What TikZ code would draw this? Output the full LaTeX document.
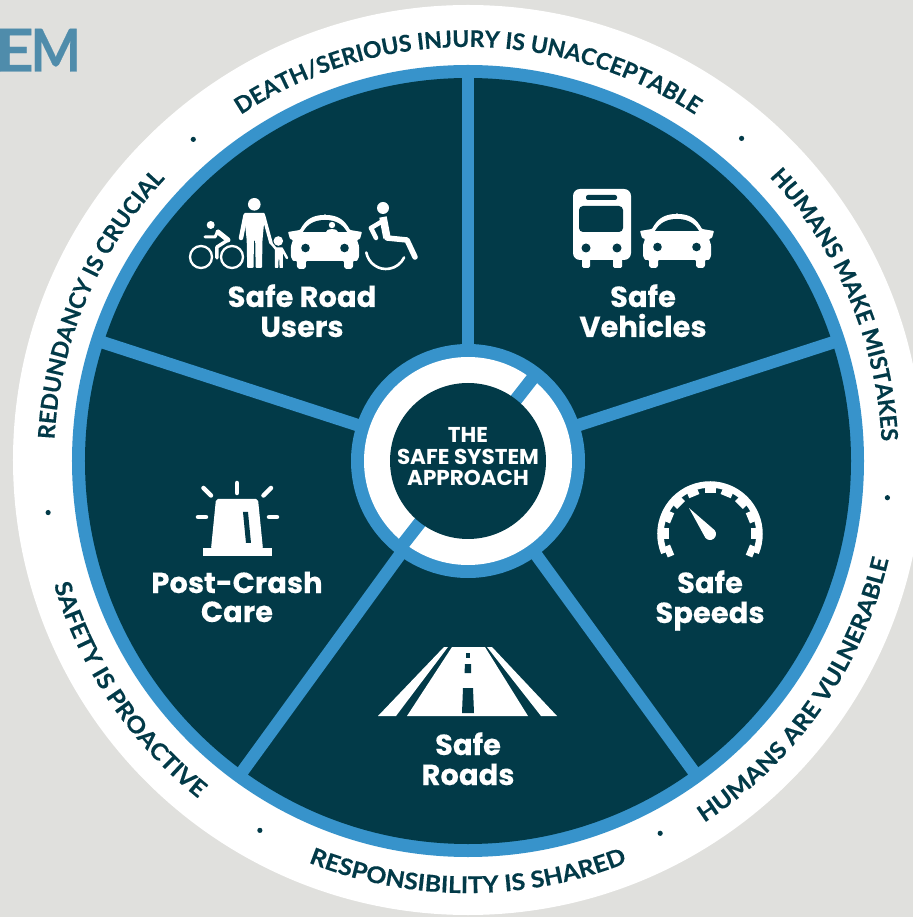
\documentclass[tikz,border=0pt]{standalone}
\usepackage{fontspec}
\usetikzlibrary{decorations.text}
\newfontfamily\lblfont{Poppins}[BoldFeatures={FakeBold=0.25}]
\newfontfamily\hubfont{Poppins}
\newfontfamily\ringfont{Lato}[BoldFeatures={FakeBold=0.35}]
\newfontfamily\ringwidefont{Lato}[FakeStretch=1.08,BoldFeatures={FakeBold=0.35}]
\newfontfamily\emfont{Lato}[BoldFeatures={FakeBold=0.5}]
\definecolor{bgc}{HTML}{E0E0DD}
\definecolor{darkc}{HTML}{023A48}
\definecolor{bluec}{HTML}{3793CB}
\definecolor{emc}{HTML}{4F8CAB}
\newcommand\ringfmt{\color{darkc}\ringfont\bfseries\fontsize{23}{24}\selectfont}
\newcommand\ringwide{\color{darkc}\ringwidefont\bfseries\fontsize{23}{24}\selectfont}
\newcommand\carIcon[3]{%
  \begin{scope}[shift={(#1,#2)}]
    \fill[white,rounded corners=0.8pt] (0,0) .. controls (-14,0) and (-20,6) .. (-25,15) -- (-37,17) -- (-35,24) -- (-32,25) -- (-34,31) -- (-34,42) -- (-32,46) -- (-28,46) -- (-28,52) -- (-26,54) -- (-21,54) -- (-19,52) -- (-19,46) -- (19,46) -- (19,52) -- (21,54) -- (26,54) -- (28,52) -- (28,46) -- (32,46) -- (34,42) -- (34,31) -- (32,25) -- (35,24) -- (37,17) -- (25,15) .. controls (20,6) and (14,0) .. (0,0) -- cycle;
    \fill[darkc] (-22,17) .. controls (-17,8) and (-9,5) .. (0,5) .. controls (9,5) and (17,8) .. (22,17) -- cycle;
    \fill[darkc] (-19.5,33) circle[radius=4.3] (19.5,33) circle[radius=4.3];
    #3
  \end{scope}}
\tikzset{
  px/.style={shift={(-468pt,461pt)},x=1pt,y=-1pt},
  ringtext/.style={decorate,decoration={text along path,text align=center,text={#1}}},
  label/.style={text=white,font=\lblfont\bfseries\fontsize{29}{30}\selectfont,align=center,inner sep=0pt,anchor=base},
  hub/.style={text=white,font=\hubfont\fontsize{21.5}{22}\selectfont\bfseries,inner sep=0pt,anchor=base},
  emtext/.style={text=emc,font=\emfont\bfseries\fontsize{59}{60}\selectfont,anchor=base east,inner sep=0pt,transform shape},
  spoke/.style={draw=bluec,line width=12.5pt},
  ray/.style={draw=white,line width=4.5pt,line cap=round},
  limb/.style={draw=white,line width=4.5pt,line cap=round,line join=round},
}
\begin{document}
\begin{tikzpicture}[x=1pt,y=1pt]
\clip (-468,-456) rectangle (445,461);
\fill[bgc] (-468,-456) rectangle (445,461);
% EM
\begin{scope}[px]
  \node[emtext,xscale=0.9] (emM) at (81,71.5) {M};
  \node[emtext,xscale=1.15] (emE) at (34,71.5) {E};
\end{scope}
% discs
\fill[white] (0,1) circle[radius=455];
\fill[bluec] (0,0) circle[radius=396];
\fill[darkc] (0,0) circle[radius=383];
% spokes
\foreach \a in {90,18,-54,-126,162} \draw[spoke] (\a:110) -- (\a:388);
% hub
\fill[bluec] (0,0) circle[radius=117];
\fill[white] (0,0) circle[radius=104];
\draw[bluec,line width=13pt] (52:70) -- (52:110);
\draw[bluec,line width=13pt] (232:70) -- (232:110);
\fill[darkc] (0,0) circle[radius=78];
% ring texts
\path[ringtext={|\ringfmt|DEATH/SERIOUS INJURY IS UNACCEPTABLE}] (170:414) arc[start angle=170,end angle=10,radius=414];
\path[ringtext={|\ringfmt|HUMANS MAKE MISTAKES}] (103:414) arc[start angle=103,end angle=-57,radius=414];
\path[ringtext={|\ringfmt|REDUNDANCY IS CRUCIAL}] (237:414) arc[start angle=237,end angle=77,radius=414];
\path[ringtext={|\ringwide|HUMANS ARE VULNERABLE}] (-115:432) arc[start angle=-115,end angle=45,radius=432];
\path[ringtext={|\ringwide|RESPONSIBILITY IS SHARED}] (-170:432) arc[start angle=-170,end angle=-10,radius=432];
\path[ringtext={|\ringwide|SAFETY IS PROACTIVE}] (134:432) arc[start angle=134,end angle=294,radius=432];
% dots
\foreach \a/\r in {49.7/423,-5/421,-62.7/419,-119.4/424,-173/423,130.5/423}
  \fill[darkc] (\a:\r) circle[radius=2.6];
% labels
\begin{scope}[px]
  \node[hub] (h1) at (468,443) {THE};
  \node[hub] (h2) at (468,464.5) {SAFE SYSTEM};
  \node[hub] (h3) at (468,485.5) {APPROACH};
  \node[label] (l1a) at (302,307) {Safe Road};
  \node[label] (l1b) at (302,337) {Users};
  \node[label] (l2a) at (643,307) {Safe};
  \node[label] (l2b) at (643,337) {Vehicles};
  \node[label] (l3a) at (710,593) {Safe};
  \node[label] (l3b) at (710,623) {Speeds};
  \node[label] (l4a) at (468,755) {Safe};
  \node[label] (l4b) at (468,785) {Roads};
  \node[label] (l5a) at (237,593) {Post-Crash};
  \node[label] (l5b) at (237,622) {Care};
  % cars
  \carIcon{677}{214}{}
  \carIcon{325}{215}{\fill[white] (7,10) circle[radius=3.2]; \fill[white] (1,17.5) .. controls (1,13) and (13,13) .. (13,17.5) -- cycle;}
  % bus
  \fill[white,rounded corners=7pt] (573,189) rectangle (631,260);
  \fill[white,rounded corners=1.5pt] (582,255) rectangle (590,268) (613,255) rectangle (622,268);
  \fill[darkc,rounded corners=4pt] (579,206) rectangle (623,232);
  \fill[darkc,rounded corners=2pt] (586,195) rectangle (617,200);
  \fill[darkc] (586,248) circle[radius=4.5] (617,248) circle[radius=4.5];
  % adult
  \fill[white] (254.3,204.3) circle[radius=6.3];
  \fill[white,rounded corners=1pt] (244,213) -- (265,213) -- (262.5,240) -- (262,268) -- (255.7,268) -- (255.2,240) -- (254,240) -- (253.5,268) -- (247.2,268) -- (246.7,240) -- cycle;
  \draw[limb,line width=4.5pt] (245.5,215.5) -- (241,238);
  \draw[limb,line width=3.5pt] (263.5,215.5) -- (268,232) -- (271,243);
  % child
  \fill[white] (278.3,241) circle[radius=4.8];
  \fill[white,rounded corners=0.6pt] (275,247.5) -- (283,247.5) -- (283,259) -- (283,268) -- (279.6,268) -- (279.3,259) -- (278.6,259) -- (278.2,268) -- (275,268) -- cycle;
  \draw[limb,line width=2.5pt] (276,249) -- (271,243);
  \draw[limb,line width=2.5pt] (282,249) -- (287,258);
  % cyclist
  \draw[white,line width=2.3pt] (201,257) circle[radius=11] (232,257) circle[radius=11];
  \fill[white] (210.7,225) circle[radius=4];
  \draw[limb,line width=3pt] (205,237) -- (215,237) -- (218,231);
  \draw[limb,line width=5pt] (218,232) -- (228,240);
  \draw[limb,line width=3.5pt] (228,240) -- (217,247) -- (217,258);
  % wheelchair
  \fill[white] (383,208) circle[radius=6];
  \draw[limb,line width=7.5pt,line cap=butt] (383,217) -- (387,238);
  \draw[limb,line width=5.5pt] (387,238) -- (407,240) -- (415,257);
  \draw[limb,line width=4.5pt] (371,228) -- (381,222);
  \draw[limb,line width=4.5pt] (371,228) -- (376,238);
  % alert light
  \fill[white,rounded corners=2pt] (216,499) -- (258,499) -- (263,549) -- (211,549) -- cycle;
  \fill[white] (203,548) rectangle (272,556);
  \fill[darkc] (243,512) -- (248,512) -- (251,543) -- (246,543) -- cycle;
  \draw[ray] (237,483) -- (237,493);
  \draw[ray] (203.5,488) -- (211,495.5);
  \draw[ray] (271,488) -- (263.5,495.5);
  \draw[ray] (198,517) -- (206,517);
  \draw[ray] (269,517) -- (277,517);
  % road
  \fill[white] (452,647) -- (485,647) -- (528,716) -- (407,716) -- cycle;
  \fill[white] (444,647) -- (448,647) -- (396,716) -- (378,716) -- cycle;
  \fill[white] (487,647) -- (492,647) -- (557,716) -- (541,716) -- cycle;
  \fill[darkc] (466,653) -- (470,653) -- (470,657.5) -- (466,657.5) -- cycle;
  \fill[darkc] (465,664) -- (471,664) -- (471,673) -- (464.5,673) -- cycle;
  \fill[darkc] (463,688) -- (473,688) -- (474,713) -- (462,713) -- cycle;
\end{scope}
% wheelchair wheel
\draw[white,line width=2.6pt,line cap=round] (-82,212) ++(190:20) arc[start angle=190,end angle=335,radius=20];
% speedometer
\begin{scope}[shift={(242,-73)}]
  \draw[white,line width=6.5pt] (202.5:49.5) arc[start angle=202.5,end angle=-22.5,radius=49.5];
  \foreach \k in {0,...,10} {
    \pgfmathsetmacro\a{202.5-22.5*\k}
    \draw[white,line width=11pt] (\a:41) -- (\a:48);
  }
  \fill[white] (-21,26) -- (219:6) arc[start angle=219,end angle=399,radius=6] -- cycle;
\end{scope}
\end{tikzpicture}
\end{document}
